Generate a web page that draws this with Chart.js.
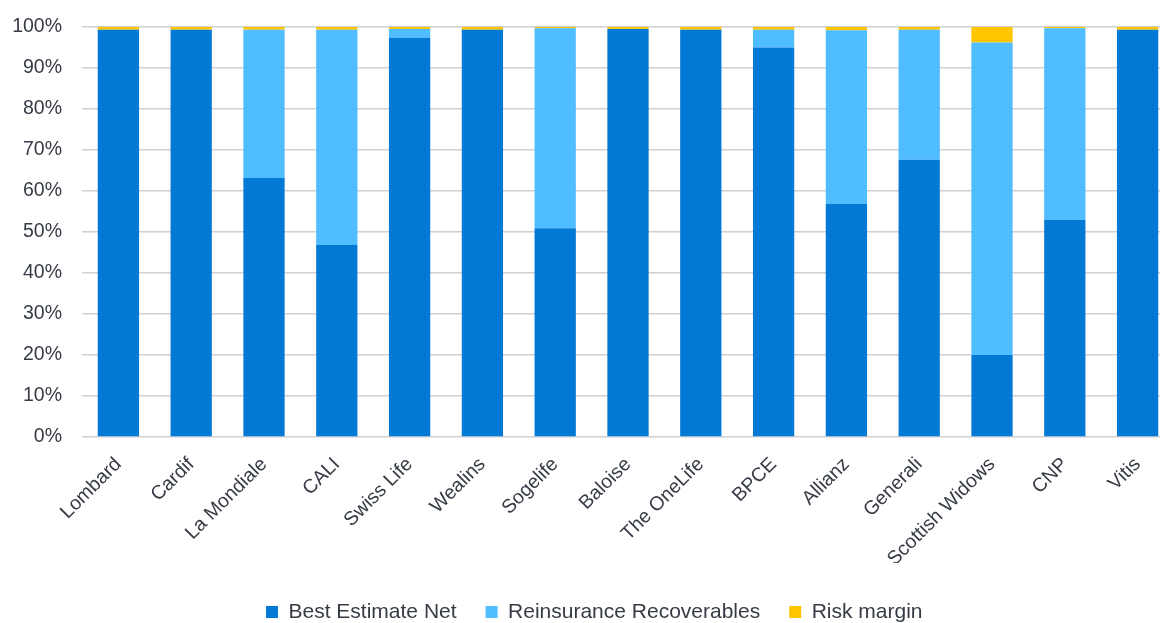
<!DOCTYPE html>
<html>
<head>
<meta charset="utf-8">
<script src="https://cdn.jsdelivr.net/npm/chart.js@4/dist/chart.umd.min.js"></script>
<style>
html,body{margin:0;padding:0;background:#fff;}
#clip{width:1160px;height:623px;overflow:hidden;position:relative;}
#wrap{width:1180px;height:623px;position:absolute;left:0;top:0;}
</style>
</head>
<body>
<div id="clip"><div id="wrap"><canvas id="c"></canvas></div></div>
<script>
const categories = ["Lombard","Cardif","La Mondiale","CALI","Swiss Life","Wealins","Sogelife","Baloise","The OneLife","BPCE","Allianz","Generali","Scottish Widows","CNP","Vitis"];
const bestEstimateNet = [99.3,99.3,63.2,46.8,97.4,99.3,50.9,99.5,99.3,95.0,56.9,67.6,20.0,53.0,99.35];
const reinsuranceRecoverables = [0,0,36.1,52.5,2.1,0,48.8,0,0,4.3,42.3,31.75,76.2,46.7,0];
const riskMargin = [0.7,0.7,0.7,0.7,0.5,0.7,0.3,0.5,0.7,0.7,0.8,0.65,3.8,0.3,0.65];
const yTicks = [0,10,20,30,40,50,60,70,80,90,100];

const font = "'Liberation Sans', Arial, sans-serif";
const textColor = '#363b45';
const LEG_PAD = 29;
const PLOT_BOTTOM = 437;

const legendPlacer = {
  id: 'legendPlacer',
  afterLayout(chart) {
    const lg = chart.legend;
    if (!lg || !lg.lineWidths) return;
    const h = lg.height;
    lg.top = 601.5 - LEG_PAD;
    lg.bottom = lg.top + h;
    const start = (lg.left + LEG_PAD + lg.right - lg.lineWidths[0]) / 2;
    const dx = 266 - start;
    lg.left += dx; lg.right += dx;
  }
};

new Chart(document.getElementById('c'), {
  type: 'bar',
  data: {
    labels: categories,
    datasets: [
      {label: 'Best Estimate Net', data: bestEstimateNet, backgroundColor: '#0179D5'},
      {label: 'Reinsurance Recoverables', data: reinsuranceRecoverables, backgroundColor: '#4FBDFF'},
      {label: 'Risk margin', data: riskMargin, backgroundColor: '#FFC600'}
    ]
  },
  plugins: [legendPlacer],
  options: {
    responsive: true,
    maintainAspectRatio: false,
    animation: false,
    layout: {autoPadding: false, padding: {top: 27, right: 6, left: 0, bottom: 0}},
    datasets: {bar: {categoryPercentage: 1, barPercentage: 0.567}},
    plugins: {
      legend: {
        position: 'bottom',
        labels: {boxWidth: 12, boxHeight: 12, color: textColor, font: {family: font, size: 21}, padding: LEG_PAD}
      },
      tooltip: {enabled: false}
    },
    scales: {
      x: {
        stacked: true,
        grid: {display: false},
        border: {display: false},
        afterFit: (s) => { const lh = (s.chart.legend && s.chart.legend.height) || 0; s.height = 623 - PLOT_BOTTOM - lh; },
        ticks: {color: textColor, font: {family: font, size: 19.5}, maxRotation: 45, minRotation: 45, padding: 8}
      },
      y: {
        stacked: true,
        min: 0, max: 100,
        afterBuildTicks: (ax) => { ax.ticks = yTicks.map(v => ({value: v})); },
        afterFit: (s) => { s.width = 82; },
        grid: {color: '#D0D0D0', lineWidth: 1.5, drawTicks: true, tickLength: 12, tickColor: 'rgba(0,0,0,0)'},
        border: {display: false},
        ticks: {color: textColor, font: {family: font, size: 19.5}, padding: 8, callback: v => v + '%'}
      }
    }
  }
});
</script>
</body>
</html>
